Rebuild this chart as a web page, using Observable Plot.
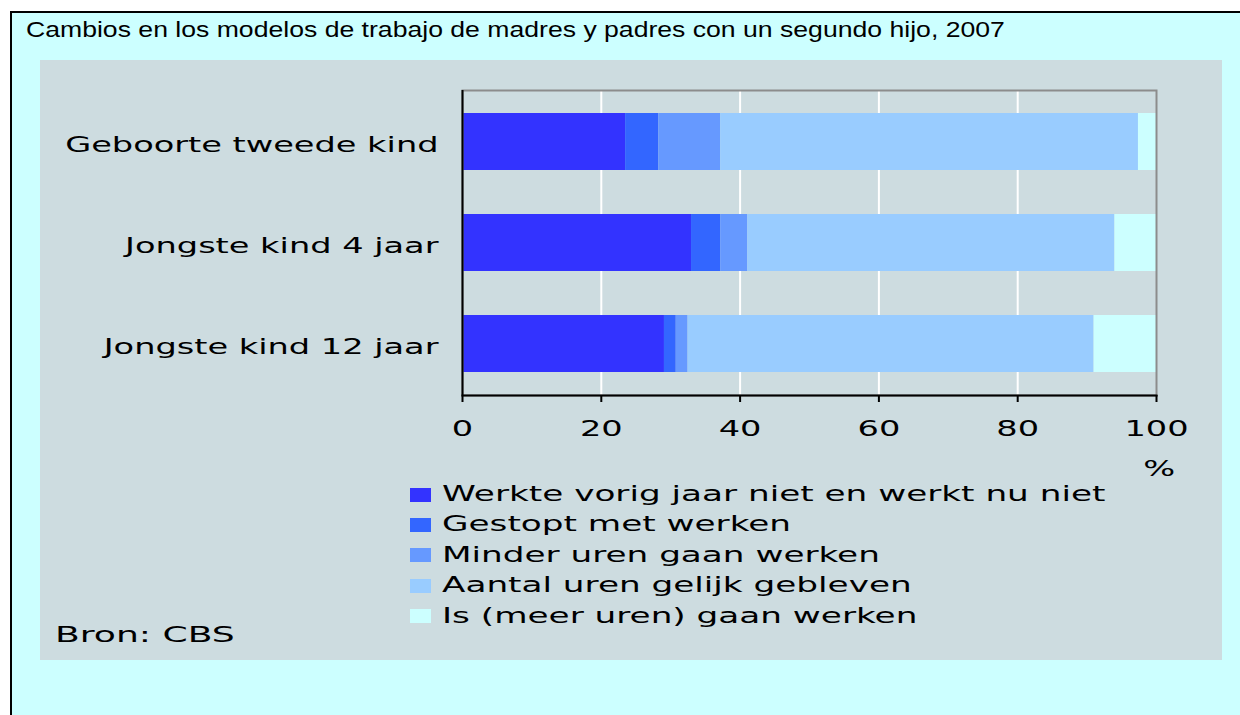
<!DOCTYPE html>
<html>
<head>
<meta charset="utf-8">
<script src="https://cdn.jsdelivr.net/npm/d3@7"></script>
<script src="https://cdn.jsdelivr.net/npm/@observablehq/plot@0.6"></script>
<style>
  body { margin: 0; background: #ffffff; }
  #page { position: relative; width: 1240px; height: 715px; overflow: hidden; }
  #outer { position: absolute; left: 10px; top: 11px; width: 1260px; height: 760px;
           background: #CCFFFF; border-left: 2px solid #000; border-top: 2px solid #000; }
  #title { position: absolute; left: 26px; top: 18.7px; font-family: "Liberation Sans", Arial, sans-serif;
           font-size: 22px; line-height: 22px; white-space: nowrap; color: #000;
           transform: scaleX(1.209); transform-origin: 0 0; }
  #panel { position: absolute; left: 40px; top: 60px; width: 1182px; height: 600px; background: #CDDCE0; }
  #chart { position: absolute; left: 0; top: 0; }
  .vtxt { font-family: "DejaVu Sans", sans-serif; font-size: 21px; line-height: 21px; color: #000;
          white-space: nowrap; transform: scaleX(1.63); transform-origin: 0 0; position: absolute; }
  .lrow { position: absolute; left: 370px; height: 21px; }
  .sw { position: absolute; left: 0; top: 3.5px; width: 21px; height: 14px; }
  .lrow .vtxt { left: 31.5px; top: 0; }
  #source { left: 15px; top: 564.5px; transform: scaleX(1.72); }
</style>
</head>
<body>
<div id="page">
  <div id="outer"></div>
  <div id="title"></div>
  <div id="panel">
    <div id="chart"></div>
    <div id="legend"></div>
    <div id="source" class="vtxt"></div>
  </div>
</div>
<script>
// ---- data ----
const titleText = "Cambios en los modelos de trabajo de madres y padres con un segundo hijo, 2007";
const sourceText = "Bron: CBS";
const unitLabel = "%";
const categories = ["Geboorte tweede kind", "Jongste kind 4 jaar", "Jongste kind 12 jaar"];
const seriesNames = [
  "Werkte vorig jaar niet en werkt nu niet",
  "Gestopt met werken",
  "Minder uren gaan werken",
  "Aantal uren gelijk gebleven",
  "Is (meer uren) gaan werken"
];
const werkteNiet = [23.5, 33.0, 29.1];
const gestopt = [4.8, 4.2, 1.7];
const minderUren = [8.9, 3.9, 1.7];
const gelijk = [60.2, 52.9, 58.5];
const meerUren = [2.6, 6.0, 9.0];
const xTicks = [0, 20, 40, 60, 80, 100];
const gridValues = [20, 40, 60, 80];

// ---- styles ----
const seriesColors = ["#3333FF", "#3366FF", "#6699FF", "#99CCFF", "#CCFFFF"];
const SX = 1.6;

const seriesValues = [werkteNiet, gestopt, minderUren, gelijk, meerUren];
const table = categories.flatMap((c, i) =>
  seriesNames.map((s, j) => ({category: c, series: s, value: seriesValues[j][i]})));

document.getElementById("title").textContent = titleText;
document.getElementById("source").textContent = sourceText;

const chart = Plot.plot({
  width: 1182,
  height: 600,
  marginLeft: 422,
  marginRight: 66,
  marginTop: 30,
  marginBottom: 265,
  style: {background: "transparent", fontFamily: "'DejaVu Sans', sans-serif", fontSize: "21px", color: "#000", overflow: "visible"},
  x: {domain: [0, 100]},
  y: {domain: categories, paddingInner: 0.44, paddingOuter: 0.22},
  color: {domain: seriesNames, range: seriesColors},
  marks: [
    Plot.ruleX(gridValues, {stroke: "#ffffff", strokeWidth: 2}),
    Plot.barX(table, {x: "value", y: "category", fill: "series"}),
    Plot.frame({stroke: "#8c8c8c", strokeWidth: 2}),
    Plot.ruleX([0], {stroke: "#000", strokeWidth: 2}),
    Plot.frame({anchor: "bottom", stroke: "#000", strokeWidth: 2}),
    Plot.axisX({ticks: xTicks, tickSize: 7, tickPadding: 18.8, strokeWidth: 2, label: null}),
    Plot.axisY({tickSize: 0, tickPadding: 24, dy: 3, label: null}),
    Plot.text([unitLabel], {text: d => d, frameAnchor: "bottom-right", textAnchor: "middle", lineAnchor: "middle", dx: 2.7, dy: 73.3})
  ]
});
chart.querySelectorAll("text").forEach(t => {
  t.setAttribute("transform", (t.getAttribute("transform") || "") + ` scale(${SX},1)`);
});
document.getElementById("chart").appendChild(chart);

// legend
const legend = document.getElementById("legend");
seriesNames.forEach((name, i) => {
  const row = document.createElement("div");
  row.className = "lrow";
  row.style.top = (424 + i * 30.4) + "px";
  const sw = document.createElement("div");
  sw.className = "sw";
  sw.style.background = seriesColors[i];
  const tx = document.createElement("div");
  tx.className = "vtxt";
  tx.textContent = name;
  row.appendChild(sw);
  row.appendChild(tx);
  legend.appendChild(row);
});
</script>
</body>
</html>
